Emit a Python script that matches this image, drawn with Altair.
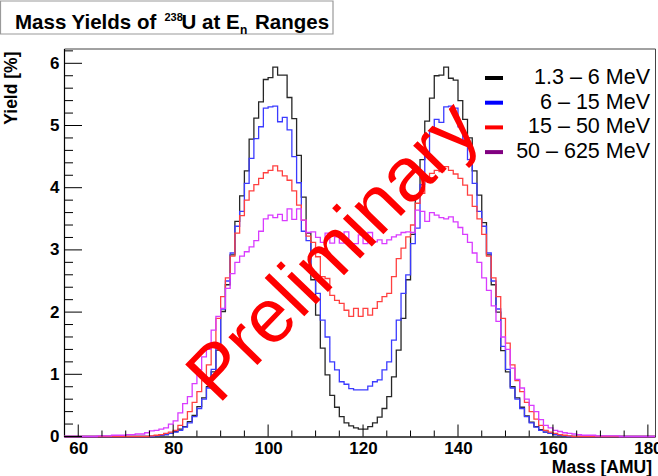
import altair as alt
import pandas as pd

# Fission mass-yield histograms of 238U, 1 AMU bins (left edges)
x_min, x_max = 57, 181.5
y_max = 6.238
edges = list(range(57, 181))

labels = ["1.3 – 6 MeV", "6 – 15 MeV", "15 – 50 MeV", "50 – 625 MeV"]
line_colors = ["#262626", "#3b3bff", "#ff4040", "#d93bff"]
legend_colors = ["#000000", "#0000ff", "#ff0000", "#800080"]

# yields [%] per bin; each list starts at the given mass number, empty bins elsewhere
start_1p3_6 = 76
yield_1p3_6 = [
    0.01, 0.02, 0.03, 0.05, 0.08, 0.12, 0.16, 0.24, 0.34, 0.48,
    0.62, 0.80, 1.04, 1.39, 2.01, 2.44, 2.92, 3.46, 3.87, 4.27,
    4.78, 5.12, 5.38, 5.74, 5.77, 5.94, 5.81, 5.81, 5.45, 5.11,
    4.52, 3.85, 3.27, 2.52, 1.95, 1.42, 0.99, 0.66, 0.47, 0.32,
    0.22, 0.17, 0.14, 0.12, 0.12, 0.16, 0.22, 0.31, 0.45, 0.64,
    0.96, 1.39, 1.90, 2.52, 3.25, 3.86, 4.45, 5.07, 5.44, 5.80,
    5.81, 5.94, 5.76, 5.73, 5.40, 5.10, 4.80, 4.27, 3.88, 3.44,
    2.92, 2.44, 2.00, 1.38, 1.04, 0.80, 0.62, 0.47, 0.33, 0.23,
    0.16, 0.11, 0.07, 0.05, 0.03, 0.02, 0.01,
]

start_6_15 = 76
yield_6_15 = [
    0.01, 0.02, 0.03, 0.05, 0.07, 0.10, 0.15, 0.22, 0.32, 0.45,
    0.60, 0.78, 1.08, 1.45, 2.05, 2.50, 2.95, 3.38, 3.62, 4.07,
    4.47, 4.79, 4.98, 5.28, 5.30, 5.31, 5.06, 5.13, 4.93, 4.50,
    4.08, 3.30, 3.15, 2.65, 2.30, 1.87, 1.60, 1.20, 1.07, 0.88,
    0.84, 0.77, 0.75, 0.75, 0.75, 0.81, 0.88, 0.91, 1.07, 1.20,
    1.55, 1.87, 2.30, 2.60, 3.10, 3.35, 4.05, 4.50, 4.90, 5.10,
    5.05, 5.30, 5.31, 5.28, 4.98, 4.78, 4.45, 4.07, 3.62, 3.38,
    2.95, 2.50, 2.05, 1.45, 1.08, 0.78, 0.60, 0.45, 0.32, 0.22,
    0.15, 0.10, 0.07, 0.05, 0.03, 0.02, 0.01,
]

start_15_50 = 75
yield_15_50 = [
    0.01,
    0.02, 0.03, 0.05, 0.07, 0.10, 0.18, 0.28, 0.40, 0.55, 0.72,
    0.90, 1.15, 1.50, 1.90, 2.25, 2.55, 2.90, 3.27, 3.55, 3.80,
    3.95, 4.05, 4.15, 4.24, 4.28, 4.35, 4.27, 4.19, 4.12, 3.95,
    3.72, 3.48, 3.22, 3.12, 2.89, 2.57, 2.54, 2.27, 2.19, 2.14,
    2.03, 1.93, 2.06, 1.93, 2.06, 1.95, 2.06, 2.17, 2.25, 2.30,
    2.57, 2.86, 3.03, 3.21, 3.40, 3.75, 3.91, 4.15, 4.23, 4.28,
    4.26, 4.34, 4.28, 4.22, 4.15, 4.04, 3.88, 3.70, 3.50, 3.25,
    2.90, 2.55, 2.25, 1.90, 1.50, 1.15, 0.90, 0.72, 0.55, 0.40,
    0.28, 0.18, 0.10, 0.07, 0.05, 0.03, 0.02, 0.01,
]

start_50_625 = 64
yield_50_625 = [
    0.01, 0.01, 0.01, 0.02, 0.02, 0.02,
    0.03, 0.03, 0.04, 0.04, 0.06, 0.09,
    0.10, 0.12, 0.14, 0.20, 0.25, 0.38, 0.53, 0.64, 0.85, 1.07,
    1.28, 1.40, 1.71, 1.93, 2.06, 2.38, 2.62, 2.80, 2.90, 2.97,
    3.05, 3.15, 3.30, 3.50, 3.56, 3.52, 3.57, 3.47, 3.66, 3.49,
    3.66, 3.48, 3.28, 3.29, 3.20, 3.12, 3.27, 3.11, 3.21, 3.11,
    3.29, 3.10, 3.10, 3.24, 3.10, 3.28, 3.13, 3.16, 3.10, 3.16,
    3.21, 3.24, 3.28, 3.29, 3.28, 3.64, 3.62, 3.46, 3.60, 3.56,
    3.52, 3.50, 3.53, 3.45, 3.36, 3.25, 3.12, 2.95, 2.80, 2.55,
    2.35, 2.10, 1.85, 1.60, 1.40, 1.10, 0.92, 0.78, 0.60, 0.50,
    0.40, 0.27, 0.18, 0.14, 0.10, 0.08, 0.06, 0.05, 0.04, 0.03,
    0.02, 0.02, 0.02, 0.01, 0.01, 0.01, 0.01, 0.01,
]

series = [
    (start_1p3_6, yield_1p3_6),
    (start_6_15, yield_6_15),
    (start_15_50, yield_15_50),
    (start_50_625, yield_50_625),
]

x_major = [60, 80, 100, 120, 140, 160, 180]
x_minor = [65, 70, 75, 85, 90, 95, 105, 110, 115, 125, 130, 135,
           145, 150, 155, 165, 170, 175]
y_major = [0, 1, 2, 3, 4, 5, 6]
y_minor = [0.2, 0.4, 0.6, 0.8, 1.2, 1.4, 1.6, 1.8, 2.2, 2.4, 2.6, 2.8,
           3.2, 3.4, 3.6, 3.8, 4.2, 4.4, 4.6, 4.8, 5.2, 5.4, 5.6, 5.8, 6.2]

W, H = 591, 388
FONT = "Liberation Sans"

xs = alt.Scale(domain=[x_min, x_max], nice=False, zero=False)
ys = alt.Scale(domain=[0, y_max], nice=False, zero=True)


def hist_frame(start, values):
    rows = []
    for e in edges:
        i = e - start
        v = values[i] if 0 <= i < len(values) else 0.0
        rows.append({"mass": e, "y": v})
    rows.append({"mass": x_max, "y": 0.0})
    return pd.DataFrame(rows)


# axes carrying the labels only; ticks are drawn inward below
axis_base = alt.Chart(pd.DataFrame({"mass": [x_min], "y": [0.0]})).mark_point(opacity=0).encode(
    x=alt.X("mass:Q", scale=xs, axis=alt.Axis(values=x_major, title=None, format="d",
                                              labelPadding=4)),
    y=alt.Y("y:Q", scale=ys, axis=alt.Axis(values=y_major, title=None, format="d",
                                           labelPadding=5)),
)

layers = [axis_base]
for (start, vals), col in zip(series, line_colors):
    layers.append(
        alt.Chart(hist_frame(start, vals)).mark_line(
            interpolate="step-after", color=col, strokeWidth=1.3
        ).encode(x=alt.X("mass:Q", scale=xs), y=alt.Y("y:Q", scale=ys))
    )

# inward tick marks
def xticks(vals, length):
    return alt.Chart(pd.DataFrame({"t": vals})).mark_rule(color="black", strokeWidth=1).encode(
        x=alt.X("t:Q", scale=xs), y=alt.value(H), y2=alt.value(H - length))


def yticks(vals, length):
    return alt.Chart(pd.DataFrame({"t": vals})).mark_rule(color="black", strokeWidth=1).encode(
        y=alt.Y("t:Q", scale=ys), x=alt.value(0), x2=alt.value(length))


layers += [xticks(x_major, 12), xticks(x_minor, 6), yticks(y_major, 18), yticks(y_minor, 9)]

# legend
leg_df = pd.DataFrame({"label": labels, "lc": legend_colors, "idx": list(range(len(labels)))})
leg = alt.Chart(leg_df).transform_calculate(ypos="29.5 + 24.7 * datum.idx")
layers.append(
    leg.mark_rule(strokeWidth=4).encode(
        x=alt.value(421), x2=alt.value(439), y=alt.Y("ypos:Q", scale=None),
        color=alt.Color("lc:N", scale=None))
)
layers.append(
    leg.mark_text(align="right", baseline="middle", font=FONT, fontSize=21.5, color="black").encode(
        x=alt.value(586), y=alt.Y("ypos:Q", scale=None), text="label:N")
)

# title pave
layers.append(
    alt.Chart(pd.DataFrame({"k": [0]})).mark_rect(fill="white", stroke="#9a9a9a", strokeWidth=1.2).encode(
        x=alt.value(-63.5), x2=alt.value(269), y=alt.value(-47.5), y2=alt.value(-14.5))
)

title_parts = [
    ("Mass Yields of", -49, -20, 20.5),
    ("238", 100.5, -27.5, 11),
    ("U at E", 117.5, -20, 20.5),
    ("n", 176, -15, 12),
    ("Ranges", 191, -20, 20.5),
]
for txt, tx, ty, fs in title_parts:
    layers.append(
        alt.Chart(pd.DataFrame({"t": [txt]})).mark_text(
            align="left", baseline="alphabetic", font=FONT, fontWeight="bold", fontSize=fs, color="black"
        ).encode(x=alt.value(tx), y=alt.value(ty), text="t:N")
    )

# axis titles
layers.append(
    alt.Chart(pd.DataFrame({"t": ["Yield [%]"]})).mark_text(
        align="right", baseline="middle", angle=270, font=FONT, fontWeight="bold", fontSize=17.5, color="black"
    ).encode(x=alt.value(-52), y=alt.value(3), text="t:N")
)
layers.append(
    alt.Chart(pd.DataFrame({"t": ["Mass [AMU]"]})).mark_text(
        align="right", baseline="alphabetic", font=FONT, fontWeight="bold", fontSize=17.5, color="black"
    ).encode(x=alt.value(588), y=alt.value(H + 36), text="t:N")
)

# watermark
layers.append(
    alt.Chart(pd.DataFrame({"t": ["Preliminary"]})).mark_text(
        align="center", baseline="middle", angle=314, font=FONT, fontSize=76, color="#ff0000"
    ).encode(x=alt.value(270), y=alt.value(204), text="t:N")
)

chart = alt.layer(*layers).properties(
    width=W, height=H,
    padding={"left": 64, "top": 48.5, "right": 3, "bottom": 39.5},
    autosize="none",
    background="white",
).configure_axis(
    grid=False, ticks=False, domainColor="black", domainWidth=1.2,
    labelFont=FONT, labelFontWeight="bold", labelFontSize=17, labelColor="black",
).configure_view(stroke="#444444", strokeWidth=1)

chart.save("out.html", embed_options={"renderer": "svg", "actions": False})
